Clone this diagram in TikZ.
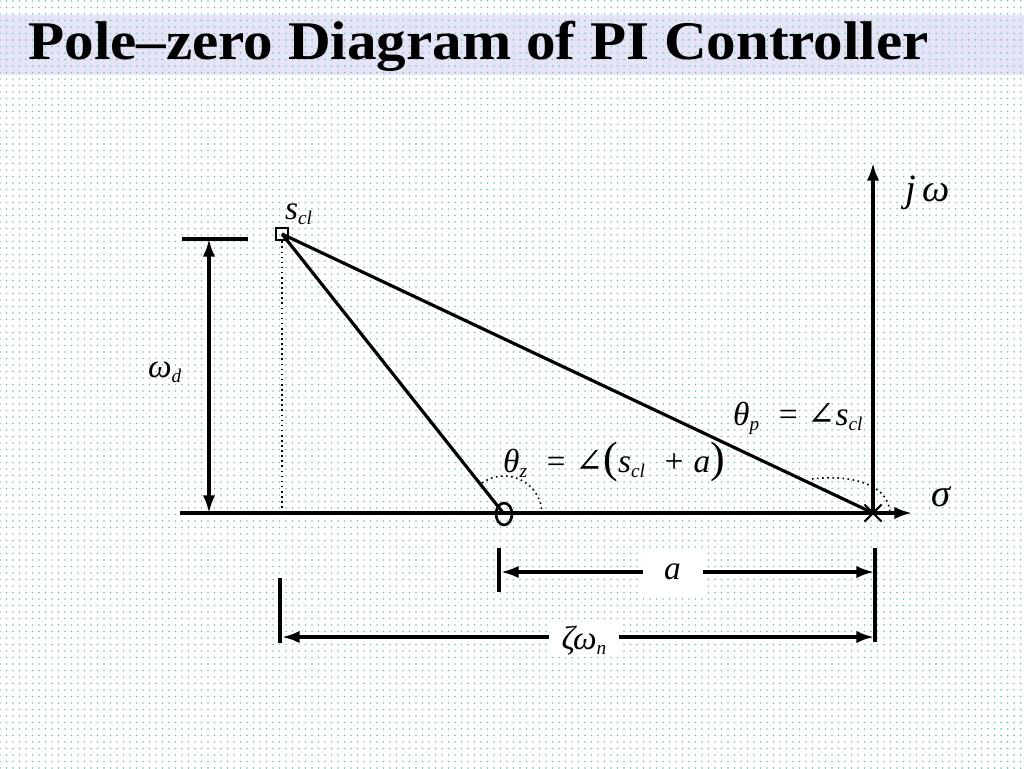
\documentclass[tikz,border=0pt]{standalone}
\usepackage{fontspec}
\setmainfont{Liberation Serif}
\newfontfamily\symfont{DejaVu Serif}
\usetikzlibrary{positioning, arrows.meta, patterns, shapes.geometric, shapes.misc}

\definecolor{dotcol}{RGB}{110,195,180}
\definecolor{bandcol}{RGB}{228,228,246}

\pgfdeclarepatternformonly{bgdots}{\pgfqpoint{-1pt}{-1pt}}{\pgfqpoint{1pt}{1pt}}{\pgfqpoint{3.7pt}{3.7pt}}{%
  \pgfpathcircle{\pgfqpoint{0pt}{0pt}}{0.5pt}\pgfusepath{fill}}

\newcommand{\isub}[1]{\raisebox{-0.35ex}{\fontsize{11}{11}\selectfont\itshape #1}}
\newcommand{\ang}{{\symfont\upshape ∠}}
\newcommand{\bigpar}[1]{{\upshape\fontsize{25}{25}\selectfont #1}}

\begin{document}
\begin{tikzpicture}[x=0.02cm, y=-0.02cm,
                    axis/.style={line width=1.8pt, -{Latex[length=10pt,width=7pt]}},
                    ray/.style={line width=1.8pt},
                    dim/.style={line width=1.8pt, {Latex[length=10pt,width=7pt]}-{Latex[length=10pt,width=7pt]}},
                    tick/.style={line width=1.8pt},
                    guide/.style={dotted, line width=0.9pt},
                    lbl/.style={font=\fontsize{19}{22}\selectfont\itshape, inner sep=1pt},
                    biglbl/.style={font=\fontsize{22}{25}\selectfont\itshape, inner sep=1pt}]
    % Background
    \fill[white] (0,0) rectangle (1024,768);
    \fill[bandcol] (0,15) rectangle (1024,75);
    \fill[pattern=bgdots, pattern color=dotcol] (0,0) rectangle (1024,768);
    \useasboundingbox (0,0) rectangle (1024,768);

    % Title
    \node[anchor=base west, inner sep=0, xscale=1.085, font=\fontsize{31}{36}\selectfont\bfseries] (title) at (28,59) {Pole–zero Diagram of PI Controller};

    % Closed-loop pole, zero and pole
    \node[draw, line width=1.2pt, minimum size=0.25cm, inner sep=0] (scl) at (282,234) {};
    \node[ellipse, draw, line width=1.5pt, minimum width=0.32cm, minimum height=0.44cm, inner sep=0] (zero) at (504,514) {};
    \node[cross out, draw, line width=1.2pt, minimum size=0.3cm, inner sep=0] (pole) at (873,513) {};

    % Axes
    \coordinate (sigL) at (180,513);
    \coordinate (sigR) at (912,513);
    \coordinate (jwT) at (873,163);
    \draw[axis] (sigL) -- (sigR);
    \draw[axis] (pole.center) -- (jwT);
    \node[biglbl] (jw) at (928,193) {j\,ω};
    \node[biglbl] (sigma) at (941,497) {σ};

    % Rays to the closed-loop pole
    \draw[ray] (scl.center) -- (zero.center);
    \draw[ray] (scl.center) -- (pole.center);
    \node[lbl, anchor=base west] (scllbl) at (283,219) {s\isub{cl}};

    % Drop line and omega_d
    \coordinate (foot) at (282,513);
    \draw[guide] (scl.south) -- (foot);
    \coordinate (topL) at (182,239);
    \coordinate (topR) at (248,239);
    \draw[tick] (topL) -- (topR);
    \coordinate (wdT) at (209,239);
    \coordinate (wdB) at (209,513);
    \draw[dim] (wdT) -- (wdB);
    \node[lbl, anchor=base west] (wd) at (146,377) {ω\isub{d}};

    % Angles
    \draw[guide] (zero.center) ++(38,0) arc[start angle=0, end angle=-127, radius=38];
    \draw[guide] (812,479) .. controls (850,474) and (889,484) .. (890,513);
    \node[lbl, anchor=base west] (thz) at (501,472) {θ\isub{z}\; = \ang\bigpar{(}s\isub{cl}\; + a\bigpar{)}};
    \node[lbl, anchor=base west] (thp) at (731,425) {θ\isub{p}\; = \ang s\isub{cl}};

    % Dimension a
    \coordinate (aT) at (499,548);
    \coordinate (aB) at (499,592);
    \coordinate (rT) at (875,548);
    \coordinate (rB) at (875,642);
    \draw[tick] (aT) -- (aB);
    \draw[tick] (rT) -- (rB);
    \coordinate (aL) at (501,572);
    \coordinate (aR) at (874,572);
    \draw[dim] (aL) -- node[pos=0.46, lbl, fill=white, minimum width=1.2cm, minimum height=0.9cm] (alab) {a} (aR);

    % Dimension zeta omega_n
    \coordinate (zT) at (280,578);
    \coordinate (zB) at (280,643);
    \draw[tick] (zT) -- (zB);
    \coordinate (zL) at (282,637);
    \coordinate (zR) at (874,637);
    \draw[dim] (zL) -- node[pos=0.51, lbl, fill=white, minimum width=1.4cm, yshift=-2pt] (zlab) {ζω\isub{n}} (zR);
\end{tikzpicture}
\end{document}
